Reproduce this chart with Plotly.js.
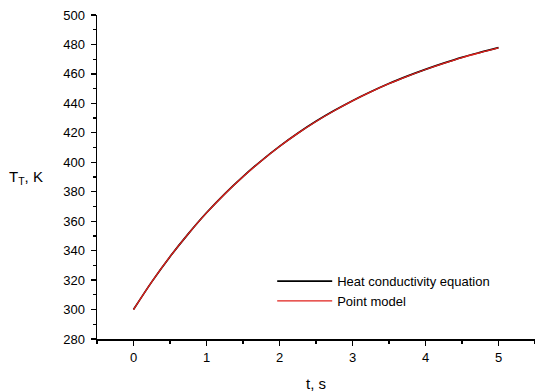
<!DOCTYPE html>
<html>
<head>
<meta charset="utf-8">
<script src="https://cdn.plot.ly/plotly-3.0.1.min.js"></script>
<style>html,body{margin:0;padding:0;background:#fff;}#chart{width:535px;height:392px;}</style>
</head>
<body>
<div id="chart"></div>
<script>
var timeS = [0, 0.25, 0.5, 0.75, 1, 1.25, 1.5, 1.75, 2, 2.25, 2.5, 2.75, 3, 3.25, 3.5, 3.75, 4, 4.25, 4.5, 4.75, 5];
var heatConductivity = [300, 318.8, 335.9, 351.4, 365.7, 378.6, 390.3, 401.0, 410.8, 419.7, 427.8, 435.1, 441.8, 447.9, 453.5, 458.5, 463.1, 467.3, 471.2, 474.6, 477.8];
var pointModel = [300, 318.8, 335.9, 351.4, 365.6, 378.5, 390.2, 400.9, 410.7, 419.6, 427.7, 435.0, 441.7, 447.8, 453.4, 458.4, 463.0, 467.2, 471.1, 474.5, 477.7];
var seriesNames = ['Heat conductivity equation', 'Point model'];

var FONT = 'Arial, "Liberation Sans", sans-serif';
var traces = [
  {x: timeS, y: heatConductivity, name: seriesNames[0], mode: 'lines', line: {color: '#000000', width: 1.7, shape: 'spline'}},
  {x: timeS, y: pointModel, name: seriesNames[1], mode: 'lines', line: {color: '#e0201b', width: 1.3, shape: 'spline'}}
];
var layout = {
  width: 535, height: 392,
  margin: {l: 97, r: 0, t: 15, b: 53},
  paper_bgcolor: '#fff', plot_bgcolor: '#fff',
  font: {family: FONT, size: 13, color: '#000'},
  showlegend: true,
  legend: {x: 0.4, y: 0.225, xanchor: 'left', yanchor: 'top', bgcolor: 'rgba(0,0,0,0)', font: {family: FONT, size: 13, color: '#000'}, itemwidth: 55},
  xaxis: {
    range: [-0.5, 5.5], tick0: 0, dtick: 1, ticks: 'outside', ticklen: 5, tickwidth: 1.2, tickcolor: '#000',
    showline: true, linecolor: '#000', linewidth: 1.5, showgrid: false, zeroline: false, ticklabelstandoff: 1,
    tickfont: {family: FONT, size: 13, color: '#000'},
    minor: {dtick: 0.5, tick0: 0, ticks: 'outside', ticklen: 3, tickwidth: 1.2, tickcolor: '#000', showgrid: false},
    title: {text: 't, s', font: {family: FONT, size: 15, color: '#000'}, standoff: 14}
  },
  yaxis: {
    range: [280, 500], tick0: 280, dtick: 20, ticks: 'outside', ticklen: 5, tickwidth: 1.2, tickcolor: '#000',
    showline: true, linecolor: '#000', linewidth: 1.5, showgrid: false, zeroline: false, ticklabelstandoff: 3,
    tickfont: {family: FONT, size: 13, color: '#000'},
    minor: {dtick: 10, ticks: 'outside', ticklen: 3, tickwidth: 1.2, tickcolor: '#000', showgrid: false}
  },
  annotations: [
    {xref: 'paper', yref: 'paper', x: -0.162, y: 0.5, xanchor: 'center', yanchor: 'middle', showarrow: false,
     text: 'T<sub>T</sub>, K', font: {family: FONT, size: 15, color: '#000'}}
  ]
};
Plotly.newPlot('chart', traces, layout, {displayModeBar: false, staticPlot: true});
</script>
</body>
</html>
